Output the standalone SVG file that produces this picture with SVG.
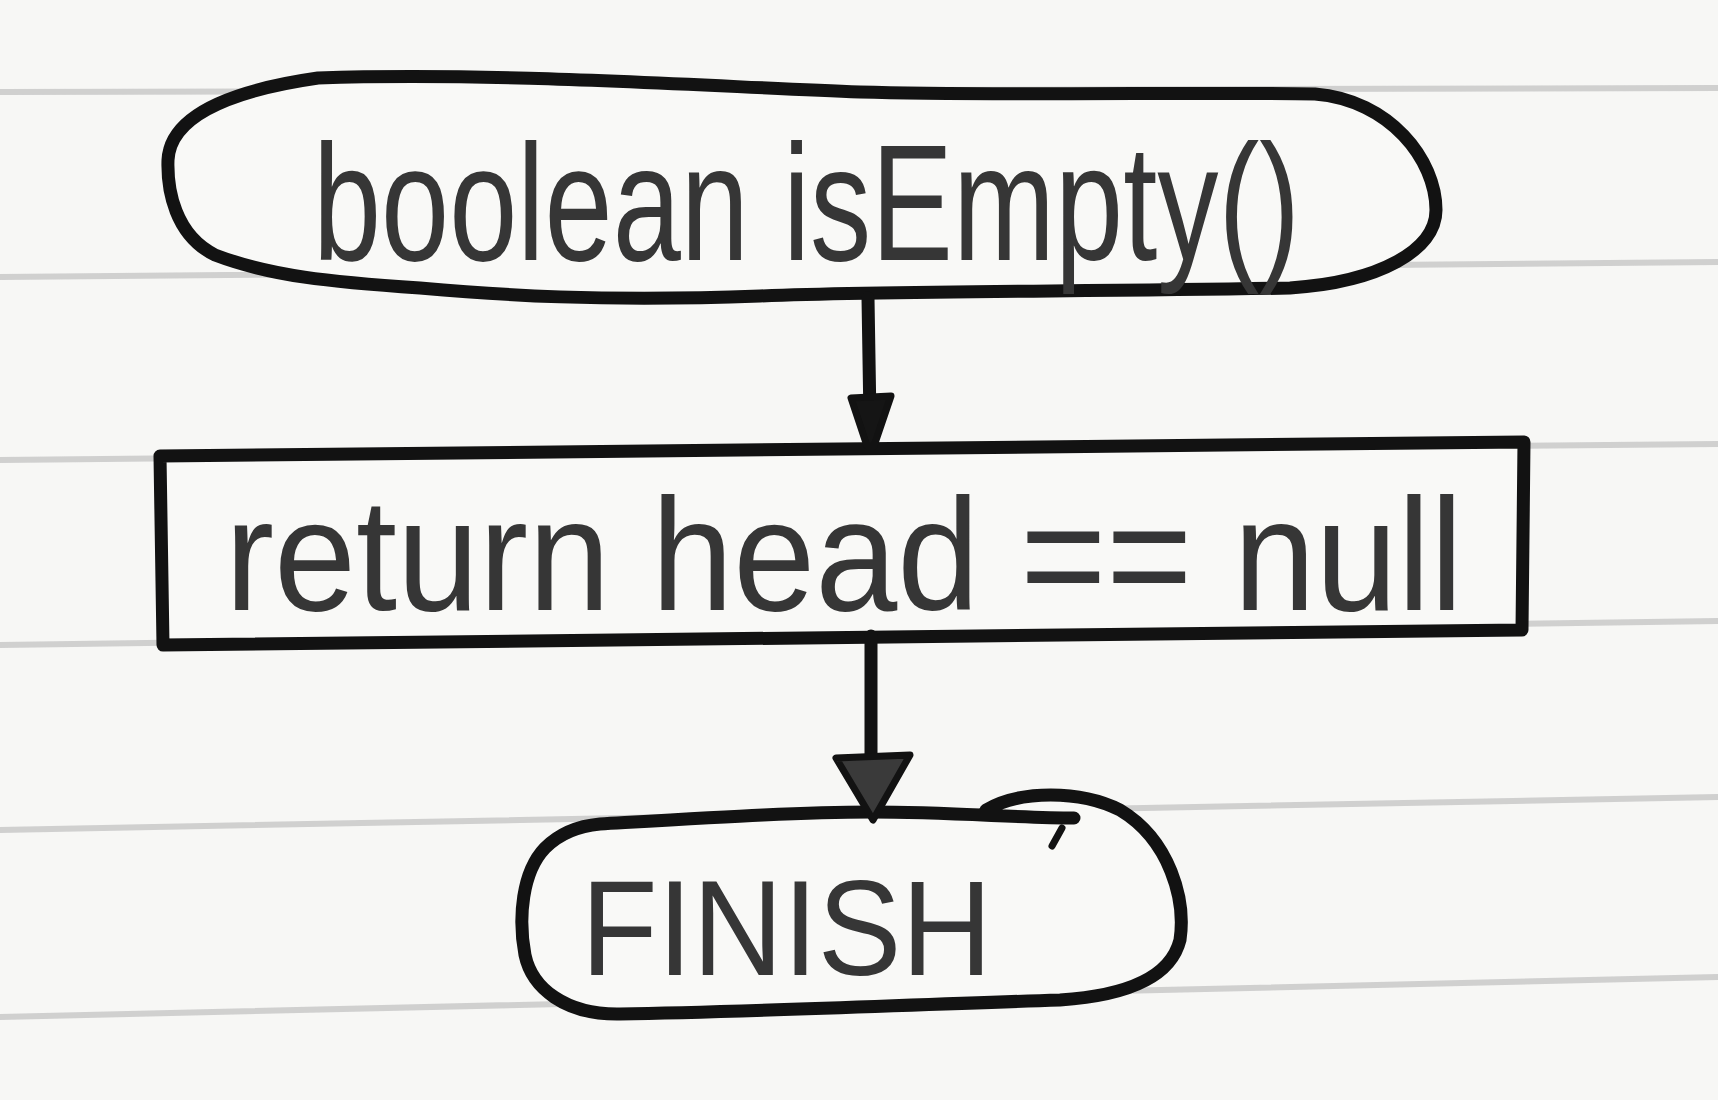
<svg xmlns="http://www.w3.org/2000/svg" width="1718" height="1100" viewBox="0 0 1718 1100">
  <style>
    .paper { fill: #f7f7f5; }
    .rule { stroke: #c6c6c6; stroke-width: 6; fill: none; stroke-linecap: round; opacity: 0.8; }
    .ink { stroke: #121212; stroke-width: 13; fill: none; stroke-linecap: round; stroke-linejoin: round; }
    .label { font-family: "Liberation Sans", "DejaVu Sans", sans-serif; fill: #363636; }
    .head { fill: #151515; stroke: #121212; stroke-width: 7; stroke-linejoin: round; }
  </style>
  <rect class="paper" x="0" y="0" width="1718" height="1100"/>
  <g id="paper-rules">
    <line class="rule" x1="0" y1="92" x2="1718" y2="88"/>
    <line class="rule" x1="0" y1="277" x2="1718" y2="262"/>
    <line class="rule" x1="0" y1="460" x2="1718" y2="444"/>
    <line class="rule" x1="0" y1="645" x2="1718" y2="621"/>
    <line class="rule" x1="0" y1="830" x2="1718" y2="797"/>
    <line class="rule" x1="0" y1="1017" x2="1718" y2="977"/>
  </g>

  <g id="node-start">
    <path class="ink" style="fill:#f9f9f7" d="M318,78 C 500,72 700,86 860,92 C 1000,96 1200,92 1315,94 C 1390,100 1436,160 1436,210 C 1436,250 1380,282 1290,288 C 1100,292 900,290 760,296 C 600,302 500,295 420,288 C 330,282 270,276 215,255 C 175,235 167,190 168,160 C 170,120 220,92 318,78 Z"/>
    <text class="label" x="313" y="260" font-size="165" textLength="987" lengthAdjust="spacingAndGlyphs">boolean isEmpty()</text>
  </g>

  <g id="node-return">
    <path class="ink" style="fill:#f9f9f7" d="M160,456 L1524,442 L1522,630 L163,645 Z"/>
    <text class="label" x="225" y="610" font-size="160" textLength="1238" lengthAdjust="spacingAndGlyphs">return head == null</text>
  </g>

  <g id="node-finish">
    <path class="ink" style="fill:#f9f9f7" d="M600,824 C 720,817 800,812 871,812 C 950,812 1020,818 1074,818 M986,810 C 1020,790 1080,790 1120,810 C 1170,840 1186,900 1180,940 C 1170,980 1120,996 1060,1000 C 900,1005 750,1012 620,1014 C 565,1015 532,988 525,955 C 518,918 522,872 545,848 C 560,833 578,826 600,824"/>
    <path class="ink" style="stroke-width:7" d="M1062,828 L1052,846"/>
    <text class="label" x="581" y="975" font-size="135" textLength="411" lengthAdjust="spacingAndGlyphs">FINISH</text>
  </g>

  <g id="connectors">
    <g id="edge-start-return">
      <line class="ink" x1="868" y1="298" x2="870" y2="420"/>
      <polygon class="head" points="851,398 891,396 874,446 867,446"/>
    </g>
    <g id="edge-return-finish">
      <line class="ink" x1="871" y1="636" x2="871" y2="760"/>
      <polygon class="head" style="fill:#3a3a3a" points="836,758 910,755 873,820"/>
    </g>
  </g>
</svg>
